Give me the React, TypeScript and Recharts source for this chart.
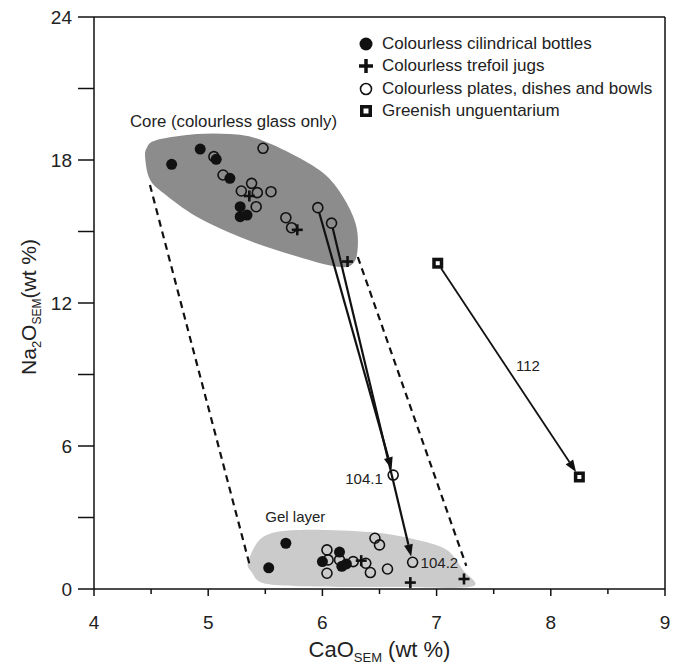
import { ComposedChart, Scatter, XAxis, YAxis, ReferenceLine, Legend } from "recharts";

// marker series (CaO, Na2O in wt %)
const bottles = [
  { x: 4.68, y: 17.82 }, { x: 4.93, y: 18.46 }, { x: 5.07, y: 18.03 }, { x: 5.19, y: 17.23 },
  { x: 5.28, y: 16.04 }, { x: 5.28, y: 15.62 }, { x: 5.34, y: 15.69 },
  { x: 5.53, y: 0.89 }, { x: 5.68, y: 1.92 }, { x: 6.0, y: 1.15 }, { x: 6.15, y: 1.55 },
  { x: 6.17, y: 0.95 }, { x: 6.21, y: 1.05 },
];
const jugs = [
  { x: 5.36, y: 16.49 }, { x: 5.78, y: 15.07 }, { x: 6.22, y: 13.74 },
  { x: 6.34, y: 1.19 }, { x: 6.77, y: 0.27 }, { x: 7.24, y: 0.42 },
];
const plates = [
  { x: 5.05, y: 18.14 }, { x: 5.13, y: 17.37 }, { x: 5.48, y: 18.49 }, { x: 5.38, y: 17.02 },
  { x: 5.29, y: 16.7 }, { x: 5.43, y: 16.63 }, { x: 5.55, y: 16.67 }, { x: 5.42, y: 16.04 },
  { x: 5.68, y: 15.58 }, { x: 5.73, y: 15.16 }, { x: 5.96, y: 16.0 }, { x: 6.08, y: 15.35 },
  { x: 6.62, y: 4.78 },
  { x: 6.04, y: 1.64 }, { x: 6.05, y: 1.22 }, { x: 6.04, y: 0.66 }, { x: 6.15, y: 1.22 },
  { x: 6.27, y: 1.15 }, { x: 6.38, y: 1.08 }, { x: 6.42, y: 0.69 }, { x: 6.46, y: 2.13 },
  { x: 6.5, y: 1.85 }, { x: 6.57, y: 0.84 }, { x: 6.79, y: 1.12 },
];
const unguentarium = [{ x: 7.01, y: 13.67 }, { x: 8.25, y: 4.7 }];

// shaded fields
const coreField = [
  { x: 4.46, y: 18.49 }, { x: 4.55, y: 18.84 }, { x: 4.9, y: 19.09 }, { x: 5.19, y: 19.09 },
  { x: 5.42, y: 18.91 }, { x: 5.72, y: 18.28 }, { x: 6.01, y: 17.44 }, { x: 6.18, y: 16.46 },
  { x: 6.29, y: 15.35 }, { x: 6.31, y: 14.36 }, { x: 6.27, y: 13.67 }, { x: 6.13, y: 13.52 },
  { x: 5.78, y: 13.95 }, { x: 5.34, y: 14.65 }, { x: 4.9, y: 15.62 }, { x: 4.61, y: 16.6 },
  { x: 4.49, y: 17.18 }, { x: 4.45, y: 18.0 },
];
const gelField = [
  { x: 5.35, y: 1.15 }, { x: 5.48, y: 2.18 }, { x: 5.78, y: 2.48 }, { x: 6.42, y: 2.39 },
  { x: 6.83, y: 2.06 }, { x: 7.09, y: 1.64 }, { x: 7.23, y: 0.8 }, { x: 7.31, y: 0.1 },
  { x: 6.68, y: 0.08 }, { x: 5.8, y: 0.12 }, { x: 5.48, y: 0.25 }, { x: 5.38, y: 0.71 },
];

// dashed envelope and alteration arrows
const dashLeft = [{ x: 4.49, y: 16.95 }, { x: 5.37, y: 0.88 }];
const dashRight = [{ x: 6.31, y: 13.93 }, { x: 7.26, y: 0.97 }];
const arrow1041 = [{ x: 5.96, y: 16.0 }, { x: 6.62, y: 4.78 }];
const arrow1042 = [{ x: 6.08, y: 15.35 }, { x: 6.79, y: 1.12 }];
const arrow112 = [{ x: 7.01, y: 13.67 }, { x: 8.25, y: 4.7 }];

const notes = [
  { x: 4.315, y: 19.39, text: "Core (colourless glass only)" },
  { x: 5.5, y: 2.81, text: "Gel layer" },
  { x: 6.2, y: 4.41, text: "104.1" },
  { x: 6.86, y: 0.88, text: "104.2" },
  { x: 7.695, y: 9.15, text: "112" },
];

const seriesNames = [
  "Colourless cilindrical bottles",
  "Colourless trefoil jugs",
  "Colourless plates, dishes and bowls",
  "Greenish unguentarium",
];

const xTicks = [4, 4.5, 5, 5.5, 6, 6.5, 7, 7.5, 8, 8.5, 9];
const yTicks = [0, 3, 6, 9, 12, 15, 18, 21, 24];

const INK = "#111";
const FONT = "'Liberation Sans', Arial, sans-serif";

function smoothClosed(pts: { x: number; y: number }[]) {
  const n = pts.length;
  let d = `M${pts[0].x},${pts[0].y}`;
  for (let i = 0; i < n; i++) {
    const p0 = pts[(i - 1 + n) % n];
    const p1 = pts[i];
    const p2 = pts[(i + 1) % n];
    const p3 = pts[(i + 2) % n];
    const c1x = p1.x + (p2.x - p0.x) / 6;
    const c1y = p1.y + (p2.y - p0.y) / 6;
    const c2x = p2.x - (p3.x - p1.x) / 6;
    const c2y = p2.y - (p3.y - p1.y) / 6;
    d += ` C${c1x},${c1y} ${c2x},${c2y} ${p2.x},${p2.y}`;
  }
  return d + " Z";
}

const fieldLine = (fill: string) => (p: any) => <path d={smoothClosed(p.points)} fill={fill} stroke="none" />;

const dashLine = (p: any) => {
  const [a, b] = p.points;
  return <line x1={a.x} y1={a.y} x2={b.x} y2={b.y} stroke={INK} strokeWidth={2.2} strokeDasharray="7 5" />;
};

const arrowLine = (startGap: number, endGap: number, width: number) => (p: any) => {
  const [a, b] = p.points;
  const dx = b.x - a.x;
  const dy = b.y - a.y;
  const len = Math.hypot(dx, dy);
  const ux = dx / len;
  const uy = dy / len;
  const sx = a.x + ux * startGap;
  const sy = a.y + uy * startGap;
  const tx = b.x - ux * endGap;
  const ty = b.y - uy * endGap;
  const bx = tx - ux * 12;
  const by = ty - uy * 12;
  const head = `${tx},${ty} ${bx - uy * 4.5},${by + ux * 4.5} ${bx + uy * 4.5},${by - ux * 4.5}`;
  return (
    <g>
      <line x1={sx} y1={sy} x2={bx} y2={by} stroke={INK} strokeWidth={width} />
      <polygon points={head} fill={INK} />
    </g>
  );
};

const noShape = () => <g />;

const FilledDot = (p: any) => <circle cx={p.cx} cy={p.cy} r={5.5} fill={INK} />;
const OpenDot = (p: any) => <circle cx={p.cx} cy={p.cy} r={5} fill="none" stroke={INK} strokeWidth={1.6} />;
const Plus = (p: any) => (
  <g stroke={INK} strokeWidth={2.6}>
    <line x1={p.cx - 5.5} x2={p.cx + 5.5} y1={p.cy} y2={p.cy} />
    <line x1={p.cx} x2={p.cx} y1={p.cy - 5.5} y2={p.cy + 5.5} />
  </g>
);
const Square = (p: any) => (
  <g>
    <rect x={p.cx - 5.5} y={p.cy - 5.5} width={11} height={11} fill={INK} />
    <rect x={p.cx - 2} y={p.cy - 2} width={4} height={4} fill="#fff" />
  </g>
);

const NoteText = (p: any) => (
  <text x={p.cx} y={p.cy} fontSize={p.payload.text.length > 10 ? 16.8 : 15} fill="#222" fontFamily={FONT}>
    {p.payload.text}
  </text>
);

const XTick = (p: any) => {
  const v = p.payload.value;
  const major = Number.isInteger(v);
  return (
    <g>
      <line x1={p.x} x2={p.x} y1={p.y} y2={p.y + (major ? 7 : 5)} stroke={INK} strokeWidth={1.5} />
      {major && (
        <text x={p.x} y={p.y + 40} textAnchor="middle" fontSize={19} fill="#222" fontFamily={FONT}>
          {v}
        </text>
      )}
    </g>
  );
};

const YTick = (p: any) => {
  const v = p.payload.value;
  return (
    <g>
      <line x1={p.x - 16} x2={p.x} y1={p.y} y2={p.y} stroke={INK} strokeWidth={1.5} />
      {v % 6 === 0 && (
        <text x={p.x - 22} y={p.y + 7} textAnchor="end" fontSize={19} fill="#222" fontFamily={FONT}>
          {v}
        </text>
      )}
    </g>
  );
};

const XLabel = (p: any) => {
  const vb = p.viewBox;
  return (
    <text x={vb.x + vb.width / 2} y={vb.y + 68} textAnchor="middle" fontSize={22} fill="#222" fontFamily={FONT}>
      CaO
      <tspan dy={5} fontSize={13}>SEM</tspan>
      <tspan dy={-5}> (wt %)</tspan>
    </text>
  );
};

const YLabel = (p: any) => {
  const vb = p.viewBox;
  const cx = 36;
  const cy = vb.y + vb.height / 2 + 4;
  return (
    <text x={cx} y={cy} transform={`rotate(-90, ${cx}, ${cy})`} textAnchor="middle" fontSize={21} fill="#222" fontFamily={FONT}>
      Na
      <tspan dy={5} fontSize={13}>2</tspan>
      <tspan dy={-5}>O</tspan>
      <tspan dy={5} fontSize={12}>SEM</tspan>
      <tspan dy={-5}>(wt %)</tspan>
    </text>
  );
};

const legendIcon = (i: number) => {
  if (i === 0) return <circle cx={8} cy={8} r={6.5} fill={INK} />;
  if (i === 1)
    return (
      <g stroke={INK} strokeWidth={3.5}>
        <line x1={1} x2={15} y1={8} y2={8} />
        <line x1={8} x2={8} y1={1} y2={15} />
      </g>
    );
  if (i === 2) return <circle cx={8} cy={8} r={5.5} fill="none" stroke={INK} strokeWidth={1.6} />;
  return (
    <g>
      <rect x={2} y={2} width={12} height={12} fill={INK} />
      <rect x={5.5} y={5.5} width={5} height={5} fill="#fff" />
    </g>
  );
};

const LegendBox = () => (
  <div style={{ fontFamily: FONT, fontSize: 17, color: "#222" }}>
    {seriesNames.map((name, i) => (
      <div key={name} style={{ display: "flex", alignItems: "center", height: 22.3 }}>
        <svg width={16} height={16} style={{ marginRight: 8 }}>
          {legendIcon(i)}
        </svg>
        <span>{name}</span>
      </div>
    ))}
  </div>
);

export default function App() {
  return (
    <div style={{ position: "absolute", left: 0, top: 0, fontFamily: FONT }}>
      <ComposedChart width={678} height={665} margin={{ top: 17, right: 13, bottom: 0, left: 0 }}>
        <XAxis
          type="number"
          dataKey="x"
          domain={[4, 9]}
          ticks={xTicks}
          allowDataOverflow
          height={76}
          tickSize={0}
          tickMargin={0}
          tickLine={false}
          tick={XTick}
          axisLine={{ stroke: INK, strokeWidth: 1.5 }}
          label={{ content: XLabel }}
        />
        <YAxis
          type="number"
          dataKey="y"
          domain={[0, 24]}
          ticks={yTicks}
          allowDataOverflow
          width={94}
          tickSize={0}
          tickMargin={0}
          tickLine={false}
          tick={YTick}
          axisLine={{ stroke: INK, strokeWidth: 1.5 }}
          label={{ content: YLabel }}
        />
        <ReferenceLine y={24} stroke={INK} strokeWidth={1.5} />
        <ReferenceLine x={9} stroke={INK} strokeWidth={1.5} />
        <Legend layout="vertical" align="center" verticalAlign="middle" wrapperStyle={{ top: 33, left: 358, width: 318, height: 92 }} content={LegendBox} />

        <Scatter data={coreField} line={fieldLine("#8c8c8c")} shape={noShape} legendType="none" isAnimationActive={false} />
        <Scatter data={gelField} line={fieldLine("#cbcbcb")} shape={noShape} legendType="none" isAnimationActive={false} />
        <Scatter data={dashLeft} line={dashLine} shape={noShape} legendType="none" isAnimationActive={false} />
        <Scatter data={dashRight} line={dashLine} shape={noShape} legendType="none" isAnimationActive={false} />
        <Scatter data={arrow1041} line={arrowLine(5, 6, 2.2)} shape={noShape} legendType="none" isAnimationActive={false} />
        <Scatter data={arrow1042} line={arrowLine(5, 6, 2.2)} shape={noShape} legendType="none" isAnimationActive={false} />
        <Scatter data={arrow112} line={arrowLine(6, 6, 1.8)} shape={noShape} legendType="none" isAnimationActive={false} />

        <Scatter name={seriesNames[0]} data={bottles} shape={FilledDot} isAnimationActive={false} />
        <Scatter name={seriesNames[1]} data={jugs} shape={Plus} isAnimationActive={false} />
        <Scatter name={seriesNames[2]} data={plates} shape={OpenDot} isAnimationActive={false} />
        <Scatter name={seriesNames[3]} data={unguentarium} shape={Square} isAnimationActive={false} />
        <Scatter data={notes} shape={NoteText} legendType="none" isAnimationActive={false} />
      </ComposedChart>
    </div>
  );
}
